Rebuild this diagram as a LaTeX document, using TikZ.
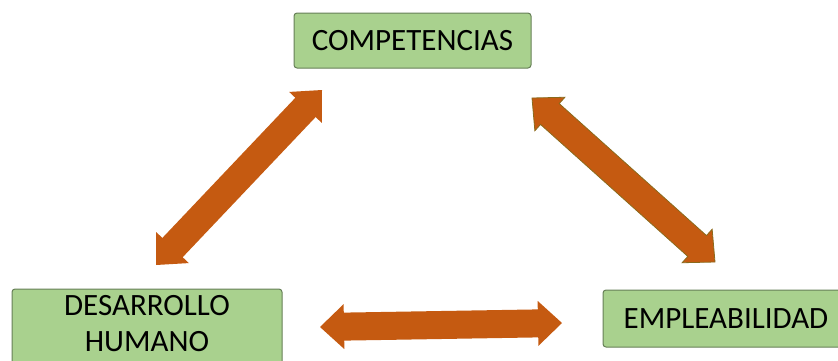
\documentclass[tikz,border=0pt]{standalone}
\usepackage{fontspec}
\setmainfont{Carlito}
\usetikzlibrary{calc}
\definecolor{boxfill}{HTML}{A9D18E}
\definecolor{boxline}{HTML}{667F57}
\definecolor{arrowfill}{HTML}{C55A11}
\definecolor{arrowline}{HTML}{8A6A1C}
\newcommand{\dblarrowpath}[2]{%
  (#1) -- ($(#1)!24pt!(#2)!22.5pt!90:(#2)$) -- ($(#1)!24pt!(#2)!14pt!90:(#2)$)
  -- ($(#2)!24pt!(#1)!14pt!-90:(#1)$) -- ($(#2)!24pt!(#1)!22.5pt!-90:(#1)$)
  -- (#2) -- ($(#2)!24pt!(#1)!22.5pt!90:(#1)$) -- ($(#2)!24pt!(#1)!14pt!90:(#1)$)
  -- ($(#1)!24pt!(#2)!14pt!-90:(#2)$) -- ($(#1)!24pt!(#2)!22.5pt!-90:(#2)$) -- cycle}
\begin{document}
\begin{tikzpicture}[x=1pt,y=-1pt,
  boxtext/.style={inner sep=0pt, align=center, font=\fontsize{31}{36}\selectfont},
  greenbox/.style={boxtext, draw=boxline, line width=1pt, fill=boxfill, rounded corners=3pt},
  bigarrow/.style={fill=arrowfill}]
\useasboundingbox (0,0) rectangle (838,360);
\clip (0,0) rectangle (838,360);
\node[greenbox, minimum width=237pt, minimum height=55pt] (comp) at (412.5,40.5) {COMPETENCIAS};
\node[greenbox, minimum width=270pt, minimum height=76pt] (des) at (147,327) {};
\node[boxtext] (destext) at (147,323.5) {DESARROLLO\\HUMANO};
\node[greenbox, minimum width=246pt, minimum height=57pt] (emp) at (726,318.5) {EMPLEABILIDAD};
\coordinate (l1) at (156,265);
\coordinate (l2) at (322,90);
\coordinate (r1) at (532,98);
\coordinate (r2) at (715,262);
\coordinate (h1) at (320,327);
\coordinate (h2) at (562,323);
\fill[bigarrow] \dblarrowpath{l1}{l2};
\filldraw[bigarrow, draw=arrowline, line width=0.8pt, line join=miter] \dblarrowpath{r1}{r2};
\fill[bigarrow] \dblarrowpath{h1}{h2};
\end{tikzpicture}
\end{document}
